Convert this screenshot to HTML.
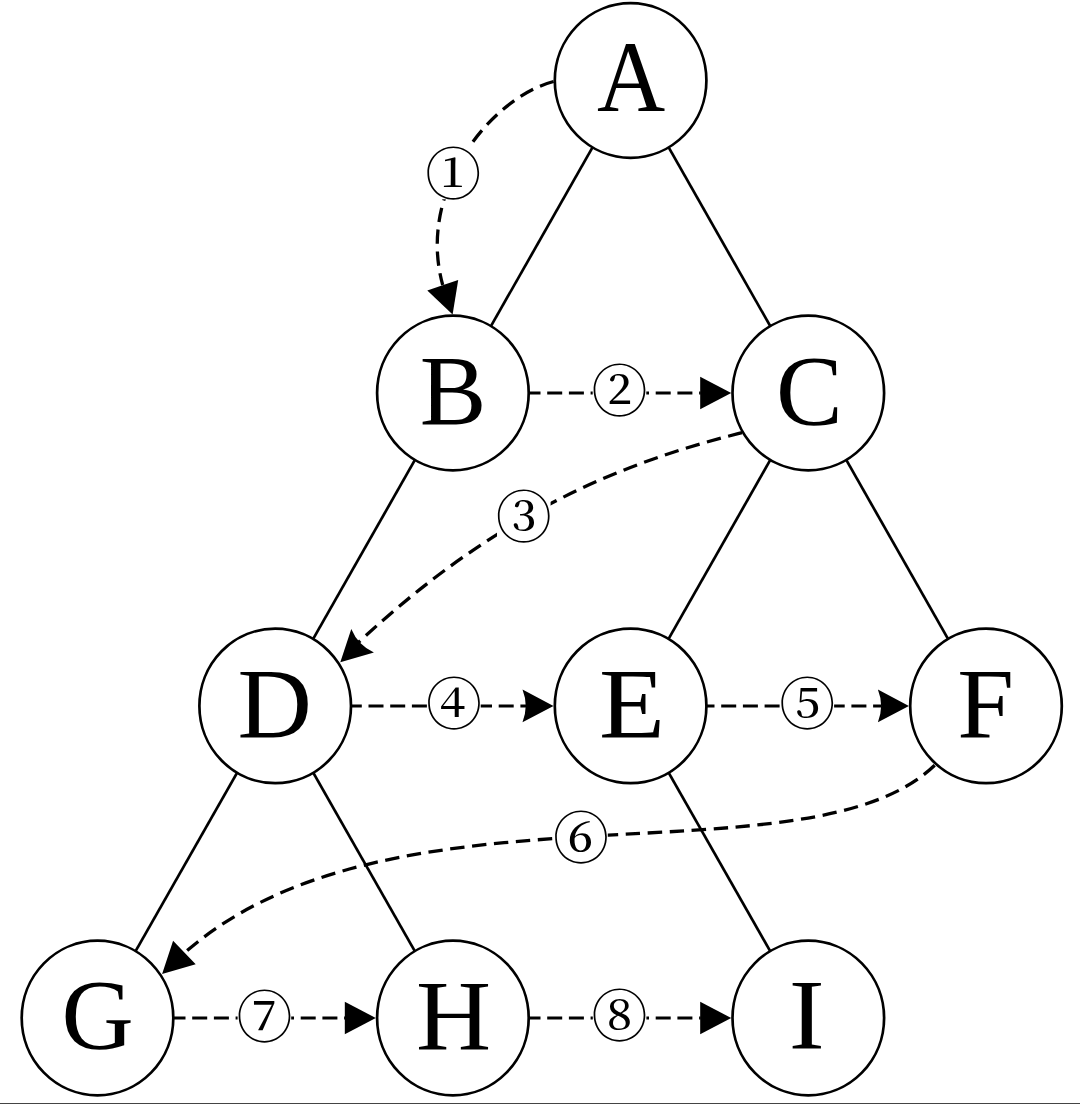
<!DOCTYPE html>
<html lang="en"><head><meta charset="utf-8"><title>Tree level-order traversal</title>
<style>
html,body{margin:0;padding:0;background:#fff;}
body{width:1080px;height:1104px;overflow:hidden;position:relative;}
svg{display:block;position:absolute;left:0;top:0;}
.n{font-family:"Liberation Serif",serif;font-size:100px;fill:#000;text-anchor:middle;}
.c{font-family:"Liberation Serif","Noto Serif CJK SC",serif;font-size:56px;font-weight:500;fill:#000;text-anchor:middle;}
</style></head><body>
<svg width="1080" height="1104" viewBox="0 0 1080 1104">
<rect x="0" y="0" width="1080" height="1104" fill="#fff"/>

<g stroke="#000" stroke-width="2.7" fill="none">
<line x1="600.9" y1="132.7" x2="482.6" y2="340.8"/>
<line x1="660.3" y1="132.7" x2="778.6" y2="340.8"/>
<line x1="423.3" y1="445.2" x2="304.8" y2="653.7"/>
<line x1="778.7" y1="445.2" x2="660.2" y2="653.7"/>
<line x1="837.9" y1="445.2" x2="956.4" y2="653.7"/>
<line x1="245.5" y1="758.0" x2="127.2" y2="965.9"/>
<line x1="304.9" y1="758.0" x2="423.2" y2="965.9"/>
<line x1="660.3" y1="758.0" x2="778.6" y2="965.9"/>
</g>
<g stroke="#000" stroke-width="3.0" fill="none" stroke-dasharray="15 6.7">
<line x1="525.5" y1="393.0" x2="700.7" y2="393.0"/>
<line x1="346.8" y1="705.9" x2="526.2" y2="705.9"/>
<line x1="699.5" y1="705.9" x2="881.6" y2="705.9"/>
<line x1="170.5" y1="1018.0" x2="345.3" y2="1018.0"/>
<line x1="525.5" y1="1018.0" x2="700.7" y2="1018.0"/>
<path d="M553.6 81.5 C491.1 97.9 416.3 189.7 442.7 285.0" stroke-width="3.3" stroke-dasharray="14.4 7.6"/>
<path d="M742.1 432.7 C614.0 464.3 491.8 518.1 357.9 642.9" stroke-width="3.3" stroke-dasharray="14.4 7.6"/>
<path d="M934.7 765.3 C806.5 888.6 386.0 767.8 180.0 957.0" stroke-width="3.3" stroke-dasharray="14.4 7.6"/>
</g>
<g fill="#000" stroke="none">
<path d="M731.2 393.0L700.2 409.3Q700.2 393.0 700.2 376.7Z"/>
<path d="M553.5 705.9L522.5 722.2Q528.9 705.9 522.5 689.6Z"/>
<path d="M908.9 705.9L877.9 722.2Q884.3 705.9 877.9 689.6Z"/>
<path d="M375.8 1018.0L344.8 1034.3Q344.8 1018.0 344.8 1001.7Z"/>
<path d="M731.2 1018.0L700.2 1034.3Q700.2 1018.0 700.2 1001.7Z"/>
<path d="M452.6 314.6L427.3 290.4Q442.7 285.2 458.2 280.0Z"/>
<path d="M340.3 662.3L351.3 629.0Q358.0 645.2 373.9 652.5Z"/>
<path d="M162.1 974.0L173.1 940.7Q184.4 952.5 195.7 964.2Z"/>
</g>
<g stroke="#000" stroke-width="2.7" fill="#fff">
<ellipse cx="630.6" cy="80.5" rx="75.8" ry="77.3"/>
<ellipse cx="452.9" cy="393.0" rx="75.8" ry="77.3"/>
<ellipse cx="808.3" cy="393.0" rx="75.8" ry="77.3"/>
<ellipse cx="275.2" cy="705.9" rx="75.8" ry="77.3"/>
<ellipse cx="630.6" cy="705.9" rx="75.8" ry="77.3"/>
<ellipse cx="986.0" cy="705.9" rx="75.8" ry="77.3"/>
<ellipse cx="97.5" cy="1018.0" rx="75.8" ry="77.3"/>
<ellipse cx="452.9" cy="1018.0" rx="75.8" ry="77.3"/>
<ellipse cx="808.3" cy="1018.0" rx="75.8" ry="77.3"/>
</g>
<text class="n" transform="translate(631.10 111.40) scale(0.945 1.02)" x="0" y="0">A</text>
<text class="n" x="453.10" y="423.60">B</text>
<text class="n" x="809.30" y="423.50">C</text>
<text class="n" transform="translate(274.70 736.90) scale(1.03 1)" x="0" y="0">D</text>
<text class="n" transform="translate(632.10 736.80) scale(1.08 1)" x="0" y="0">E</text>
<text class="n" transform="translate(985.50 736.90) scale(1.02 1)" x="0" y="0">F</text>
<text class="n" x="97.70" y="1048.00">G</text>
<text class="n" transform="translate(453.50 1049.10) scale(1.04 1)" x="0" y="0">H</text>
<text class="n" transform="translate(806.70 1048.40) scale(1.08 1)" x="0" y="0">I</text>
<rect x="426.5" y="145.7" width="53.6" height="53.6" fill="#fff"/>
<text class="c" x="453.3" y="193.6">①</text>
<rect x="592.7" y="363.4" width="53.6" height="53.6" fill="#fff"/>
<text class="c" x="619.5" y="411.3">②</text>
<rect x="497.0" y="488.6" width="53.6" height="53.6" fill="#fff"/>
<text class="c" x="523.8" y="536.5">③</text>
<rect x="427.1" y="676.2" width="53.6" height="53.6" fill="#fff"/>
<text class="c" x="453.9" y="724.1">④</text>
<rect x="780.5" y="676.2" width="53.6" height="53.6" fill="#fff"/>
<text class="c" x="807.3" y="724.1">⑤</text>
<rect x="554.2" y="810.5" width="53.6" height="53.6" fill="#fff"/>
<text class="c" x="581" y="858.4">⑥</text>
<rect x="237.6" y="988.7" width="53.6" height="53.6" fill="#fff"/>
<text class="c" x="264.4" y="1036.6">⑦</text>
<rect x="592.8" y="988.2" width="53.6" height="53.6" fill="#fff"/>
<text class="c" x="619.6" y="1036.1">⑧</text>
<rect x="0" y="1103" width="1080" height="1" fill="#444"/>
</svg></body></html>
